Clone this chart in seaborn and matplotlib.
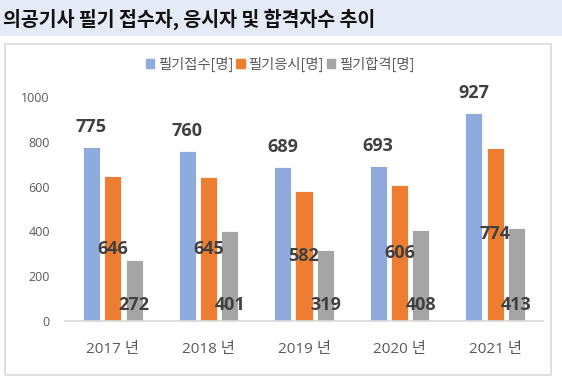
import pandas as pd
import matplotlib.pyplot as plt
import matplotlib.patches as mpatches
import seaborn as sns

years = ['2017 년', '2018 년', '2019 년', '2020 년', '2021 년']
series = ['필기접수[명]', '필기응시[명]', '필기합격[명]']
applied = [775, 760, 689, 693, 927]
taken = [646, 645, 582, 606, 774]
passed = [272, 401, 319, 408, 413]
colors = ['#8FAADC', '#ED7D31', '#A5A5A5']

df = pd.DataFrame({
    '연도': years * 3,
    '구분': [series[0]] * 5 + [series[1]] * 5 + [series[2]] * 5,
    '인원': applied + taken + passed,
})

sns.set_theme(style='white')
plt.rcParams['font.family'] = ['Noto Sans CJK KR', 'DejaVu Sans']
num_font = ['Open Sans', 'Noto Sans CJK KR']

fig = plt.figure(figsize=(5.62, 3.84), dpi=100)
# 제목 배경 띠
fig.patches.append(mpatches.Rectangle((0, 1 - 36 / 384), 1, 36 / 384, transform=fig.transFigure,
                                      facecolor='#E4EBF7', edgecolor='none', zorder=0))
# 차트 테두리
fig.patches.append(mpatches.Rectangle((5 / 562, 1 - 375 / 384), 546 / 562, 331 / 384, transform=fig.transFigure,
                                      facecolor='none', edgecolor='#D9D9D9', linewidth=1.2, zorder=0))
fig.text(3 / 562, 1 - 19 / 384, '의공기사 필기 접수자, 응시자 및 합격자수 추이', fontsize=14, fontweight='bold',
         color='#111111', ha='left', va='center')

ax = fig.add_axes([65 / 562, 1 - 321 / 384, 478 / 562, 224 / 384])
sns.barplot(data=df, x='연도', y='인원', hue='구분', palette=colors, width=0.67, gap=0.2,
            saturation=1, ax=ax, legend=False, edgecolor='white', linewidth=0.6)

ax.set_ylim(0, 1000)
ax.set_yticks(range(0, 1001, 200))
ax.set_xlabel('')
ax.set_ylabel('')
for s in ['top', 'right', 'left']:
    ax.spines[s].set_visible(False)
ax.spines['bottom'].set_color('#D9D9D9')
ax.tick_params(axis='y', length=0, pad=11, labelsize=9, labelcolor='#595959')
ax.tick_params(axis='x', length=0, pad=15, labelsize=11, labelcolor='#595959')
for t in ax.get_xticklabels() + ax.get_yticklabels():
    t.set_fontfamily(num_font)

lab = dict(fontsize=13, fontweight='bold', color='#404040', fontfamily=num_font)
ax.bar_label(ax.containers[0], padding=8, **lab)
ax.bar_label(ax.containers[1], label_type='center', **lab)
for bar, v in zip(ax.containers[2], passed):
    ax.annotate(str(v), xy=(bar.get_x() + bar.get_width() / 2, 0), xytext=(0, 11.5),
                textcoords='offset points', ha='center', va='center', **lab)

handles = [mpatches.Patch(color=c) for c in colors]
fig.legend(handles, series, loc='center', bbox_to_anchor=(280 / 562, 1 - 64 / 384), ncol=3, frameon=False,
           fontsize=10.3, labelcolor='#595959', handlelength=0.6, handleheight=0.6, handletextpad=0.25,
           columnspacing=0.2, borderpad=0)

fig.savefig('out.png', dpi=100)
